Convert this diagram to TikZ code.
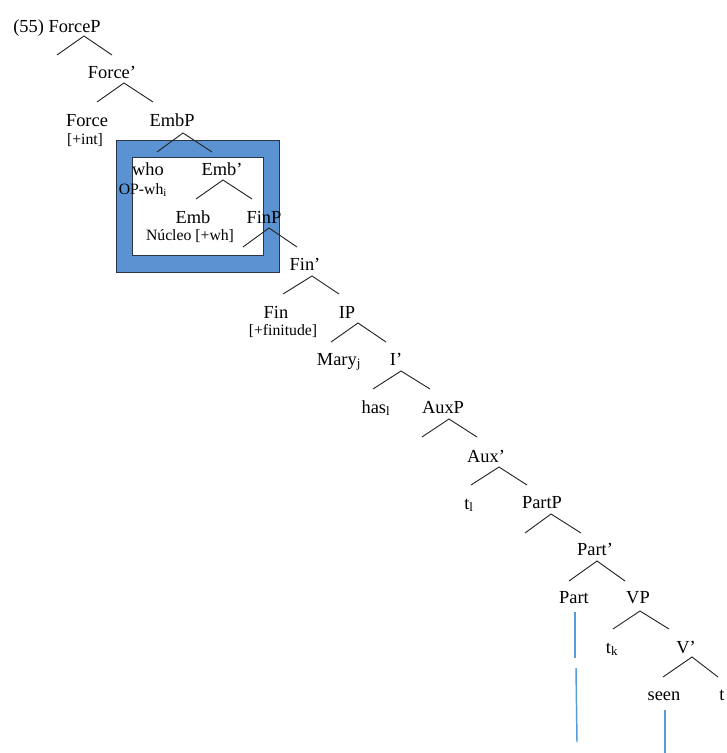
\documentclass[tikz,border=0pt]{standalone}
\usepackage{fontspec}
\setmainfont{Liberation Serif}
\begin{document}
\definecolor{framefill}{HTML}{5A92D2}
\definecolor{frameedge}{HTML}{2B3546}
\definecolor{traceblue}{HTML}{5B9BD5}
\begin{tikzpicture}[x=0.75pt,y=-0.75pt,
  lbl/.style={inner sep=0pt,anchor=base,font=\fontsize{13.8}{16}\selectfont},
  feat/.style={inner sep=0pt,anchor=base,font=\fontsize{11.8}{14}\selectfont},
  branch/.style={draw=black!85,line width=0.7pt},
  trace/.style={draw=traceblue,line width=1.1pt}]
\useasboundingbox (0,0) rectangle (727,753);
% highlighted Emb domain
\draw[fill=framefill,draw=frameedge,line width=0.7pt] (116,140) rectangle (279,272);
\draw[fill=white,draw=frameedge,line width=0.7pt] (132.5,157) rectangle (263,255);
% branching hats: apex, left arm end, right arm end
\newcommand\brhat[5]{\draw[branch] (#3,#5) -- (#1,#2) -- (#4,#5);}
\brhat{84}{36}{57}{112}{55}
\brhat{124}{83}{97}{153}{102}
\brhat{183}{133}{157}{212}{152}
\brhat{223}{180}{196}{252}{199}
\brhat{269}{228}{243}{297}{247}
\brhat{312}{276}{283}{339}{294}
\brhat{358}{323}{331}{386}{342}
\brhat{401}{371}{373}{430}{389}
\brhat{449}{419}{422}{477}{437}
\brhat{499}{467}{471}{527}{485}
\brhat{551}{514}{525}{581}{533}
\brhat{597}{561}{569}{625}{581}
\brhat{640}{611}{613}{669}{629}
\brhat{692}{657}{663}{718}{677}
% labels
\node[lbl] (forcep) at (57,32) {(55) ForceP};
\node[lbl] (forcebar) at (112,78) {Force’};
\node[lbl] (force) at (87,126) {Force};
\node[feat] (int) at (85,144) {[+int]};
\node[lbl] (embp) at (172,126) {EmbP};
\node[lbl] (who) at (148,175) {who};
\node[feat] (opwh) at (143,194) {OP-wh\textsubscript{i}};
\node[lbl] (embbar) at (222,175) {Emb’};
\node[lbl] (emb) at (193,223) {Emb};
\node[feat] (nucleo) at (190,240) {Núcleo [+wh]};
\node[lbl] (finp) at (264,223) {FinP};
\node[lbl] (finbar) at (305,270) {Fin’};
\node[lbl] (fin) at (276,318) {Fin};
\node[feat] (finit) at (283,335) {[+finitude]};
\node[lbl] (ip) at (347,318) {IP};
\node[lbl] (mary) at (339,365) {Mary\textsubscript{j}};
\node[lbl] (ibar) at (396,365) {I’};
\node[lbl] (has) at (376,413) {has\textsubscript{l}};
\node[lbl] (auxp) at (443,413) {AuxP};
\node[lbl] (auxbar) at (486,462) {Aux’};
\node[lbl] (tl) at (469,509) {t\textsubscript{l}};
\node[lbl] (partp) at (542,508) {PartP};
\node[lbl] (partbar) at (595,555) {Part’};
\node[lbl] (part) at (574,603) {Part};
\node[lbl] (vp) at (638,603) {VP};
\node[lbl] (tk) at (612,653) {t\textsubscript{k}};
\node[lbl] (vbar) at (686,653) {V’};
\node[lbl] (seen) at (664,700) {seen};
\node[lbl,anchor=base west] (tobj) at (719,700) {t};
% movement traces
\coordinate (p1) at (575,612);
\coordinate (p2) at (575,658);
\coordinate (p3) at (576,668);
\coordinate (p4) at (577,742);
\coordinate (s1) at (665,710);
\coordinate (s2) at (665,753);
\draw[trace] (p1) -- (p2);
\draw[trace] (p3) -- (p4);
\draw[trace] (s1) -- (s2);
\end{tikzpicture}
\end{document}
